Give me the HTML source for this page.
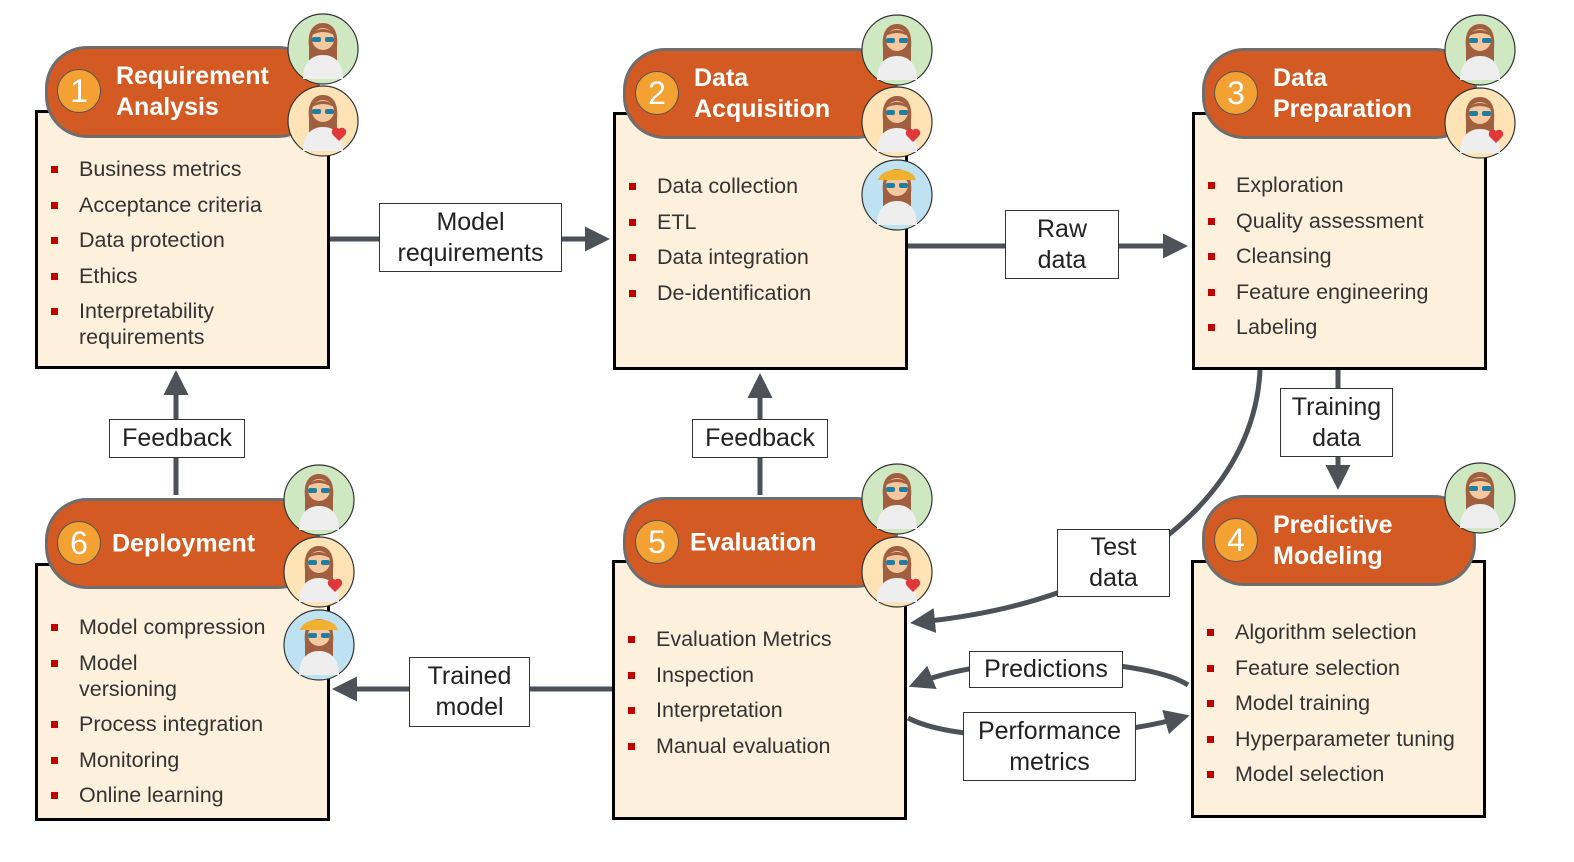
<!DOCTYPE html>
<html><head><meta charset="utf-8"><style>
body{margin:0;width:1574px;height:862px;background:#fff;overflow:hidden;font-family:"Liberation Sans","DejaVu Sans",sans-serif;position:relative}
.body{position:absolute;background:#fdf0dc;border:3px solid #000;box-sizing:border-box}
.hdr{position:absolute;background:#d35a22;border:3px solid #6e6e6e;border-radius:42px;box-sizing:border-box;color:#fff;font-size:25px;line-height:31px;font-weight:bold}
.num{position:absolute;left:9px;top:50%;margin-top:-23px;width:44px;height:44px;border-radius:50%;background:#f2a132;border:1.5px solid #555;box-sizing:border-box;text-align:center;line-height:42px;font-size:32px;color:#fff;font-weight:normal}
.ttl{position:absolute;left:68px;top:50%;transform:translateY(-50%)}
ul{position:absolute;margin:0;padding:0;list-style:none;font-size:21.5px;color:#333;line-height:26px}
li{position:relative;padding-left:44px;margin-bottom:9.5px}
li:before{content:"";position:absolute;left:16px;top:10px;width:7px;height:7px;background:#c00000}
.lbl{position:absolute;background:#fff;border:1.5px solid #333;box-sizing:border-box;text-align:center;font-size:25px;color:#222;line-height:31px;display:flex;align-items:center;justify-content:center}
svg{position:absolute;left:0;top:0}
</style></head><body>
<svg width="1574" height="862">
<defs><marker id="a" markerWidth="5" markerHeight="5" refX="3" refY="2.5" orient="auto" markerUnits="strokeWidth"><path d="M0,0L5,2.5L0,5z" fill="#4d5258"/></marker></defs>
<g stroke="#4d5258" stroke-width="5" fill="none">
<path d="M329,239H600" marker-end="url(#a)"/>
<path d="M907,246H1178" marker-end="url(#a)"/>
<path d="M176,495V380" marker-end="url(#a)"/>
<path d="M760,495V383" marker-end="url(#a)"/>
<path d="M1338,369V480" marker-end="url(#a)"/>
<path d="M613,689H342" marker-end="url(#a)"/>
<path d="M1260,370C1255,480 1160,560 1060,592C1010,610 960,618 920,622" marker-end="url(#a)"/>
<path d="M1188,685C1150,660 1000,650 918,683" marker-end="url(#a)"/>
<path d="M908,718C960,745 1100,740 1180,718" marker-end="url(#a)"/>
</g>
</svg>

<div class="body" style="left:35px;top:110px;width:295px;height:259px"></div>
<div class="hdr" style="left:45px;top:46px;width:275px;height:92px"><div class="num">1</div><div class="ttl">Requirement<br>Analysis</div></div>
<ul style="left:35px;top:156px;width:290px"><li>Business metrics</li><li>Acceptance criteria</li><li>Data protection</li><li>Ethics</li><li>Interpretability<br>requirements</li></ul>

<div class="body" style="left:613px;top:112px;width:295px;height:258px"></div>
<div class="hdr" style="left:623px;top:48px;width:275px;height:91px"><div class="num">2</div><div class="ttl">Data<br>Acquisition</div></div>
<ul style="left:613px;top:173px;width:290px"><li>Data collection</li><li>ETL</li><li>Data integration</li><li>De-identification</li></ul>

<div class="body" style="left:1192px;top:112px;width:295px;height:258px"></div>
<div class="hdr" style="left:1202px;top:48px;width:275px;height:91px"><div class="num">3</div><div class="ttl">Data<br>Preparation</div></div>
<ul style="left:1192px;top:172px;width:290px"><li>Exploration</li><li>Quality assessment</li><li>Cleansing</li><li>Feature engineering</li><li>Labeling</li></ul>

<div class="body" style="left:35px;top:563px;width:295px;height:258px"></div>
<div class="hdr" style="left:45px;top:498px;width:275px;height:91px"><div class="num">6</div><div class="ttl" style="left:64px">Deployment</div></div>
<ul style="left:35px;top:614px;width:290px"><li>Model compression</li><li>Model<br>versioning</li><li>Process integration</li><li>Monitoring</li><li>Online learning</li></ul>

<div class="body" style="left:612px;top:560px;width:295px;height:260px"></div>
<div class="hdr" style="left:623px;top:497px;width:275px;height:91px"><div class="num">5</div><div class="ttl" style="left:64px">Evaluation</div></div>
<ul style="left:612px;top:626px;width:290px"><li>Evaluation Metrics</li><li>Inspection</li><li>Interpretation</li><li>Manual evaluation</li></ul>

<div class="body" style="left:1191px;top:560px;width:295px;height:258px"></div>
<div class="hdr" style="left:1202px;top:495px;width:274px;height:91px"><div class="num">4</div><div class="ttl" style="left:68px">Predictive<br>Modeling</div></div>
<ul style="left:1191px;top:619px;width:290px"><li>Algorithm selection</li><li>Feature selection</li><li>Model training</li><li>Hyperparameter tuning</li><li>Model selection</li></ul>

<svg width="1574" height="862">
<defs>
<g id="w">
<path d="M-14,-2C-16,-20 -8,-26 0,-26C8,-26 16,-20 14,-2L14,14H-14z" fill="#a0603f"/>
<circle cx="0" cy="-10" r="11" fill="#f6c8a0"/>
<path d="M-11,-14C-8,-22 8,-22 11,-14C4,-18 -4,-18 -11,-14z" fill="#a0603f"/>
<rect x="-11" y="-12" width="9" height="5" rx="2" fill="#1e7fa0"/><rect x="2" y="-12" width="9" height="5" rx="2" fill="#1e7fa0"/>
<path d="M-20,30C-20,12 -10,6 0,6C10,6 20,12 20,30z" fill="#eeeeee"/>
</g>
</defs>
<g stroke="#333" stroke-width="1.2">
<circle cx="323" cy="49" r="35" fill="#cfe8c2"/><circle cx="323" cy="121" r="35" fill="#fde3b6"/>
<circle cx="897" cy="50" r="35" fill="#cfe8c2"/><circle cx="897" cy="122" r="35" fill="#fde3b6"/><circle cx="897" cy="195" r="35" fill="#bfe2f2"/>
<circle cx="1480" cy="50" r="35" fill="#cfe8c2"/><circle cx="1480" cy="123" r="35" fill="#fde3b6"/>
<circle cx="319" cy="500" r="35" fill="#cfe8c2"/><circle cx="319" cy="572" r="35" fill="#fde3b6"/><circle cx="319" cy="645" r="35" fill="#bfe2f2"/>
<circle cx="897" cy="499" r="35" fill="#cfe8c2"/><circle cx="897" cy="572" r="35" fill="#fde3b6"/>
<circle cx="1480" cy="498" r="35" fill="#cfe8c2"/>
</g>
<g>
<use href="#w" x="323" y="49"/><use href="#w" x="323" y="121"/>
<use href="#w" x="897" y="50"/><use href="#w" x="897" y="122"/><use href="#w" x="897" y="195"/>
<use href="#w" x="1480" y="50"/><use href="#w" x="1480" y="123"/>
<use href="#w" x="319" y="500"/><use href="#w" x="319" y="572"/><use href="#w" x="319" y="645"/>
<use href="#w" x="897" y="499"/><use href="#w" x="897" y="572"/>
<use href="#w" x="1480" y="498"/>
</g>
<g fill="#f0b030"><path d="M878,180C882,166 912,166 916,180z"/><path d="M300,630C304,616 334,616 338,630z"/></g>
<g fill="#e0383a"><path d="M333,135l6,-6a4,4 0 0 1 6,6l-6,6l-6,-6a4,4 0 0 1 6,-6z"/><path d="M907,136l6,-6a4,4 0 0 1 6,6l-6,6l-6,-6a4,4 0 0 1 6,-6z"/><path d="M1490,137l6,-6a4,4 0 0 1 6,6l-6,6l-6,-6a4,4 0 0 1 6,-6z"/><path d="M329,586l6,-6a4,4 0 0 1 6,6l-6,6l-6,-6a4,4 0 0 1 6,-6z"/><path d="M907,586l6,-6a4,4 0 0 1 6,6l-6,6l-6,-6a4,4 0 0 1 6,-6z"/></g>
</svg>

<div class="lbl" style="left:379px;top:203px;width:183px;height:69px">Model<br>requirements</div>
<div class="lbl" style="left:1005px;top:210px;width:114px;height:69px">Raw<br>data</div>
<div class="lbl" style="left:109px;top:419px;width:136px;height:39px">Feedback</div>
<div class="lbl" style="left:692px;top:419px;width:136px;height:39px">Feedback</div>
<div class="lbl" style="left:1280px;top:388px;width:113px;height:69px">Training<br>data</div>
<div class="lbl" style="left:1057px;top:529px;width:113px;height:68px">Test<br>data</div>
<div class="lbl" style="left:409px;top:657px;width:121px;height:70px">Trained<br>model</div>
<div class="lbl" style="left:969px;top:651px;width:154px;height:37px">Predictions</div>
<div class="lbl" style="left:963px;top:712px;width:173px;height:69px">Performance<br>metrics</div>
</body></html>
